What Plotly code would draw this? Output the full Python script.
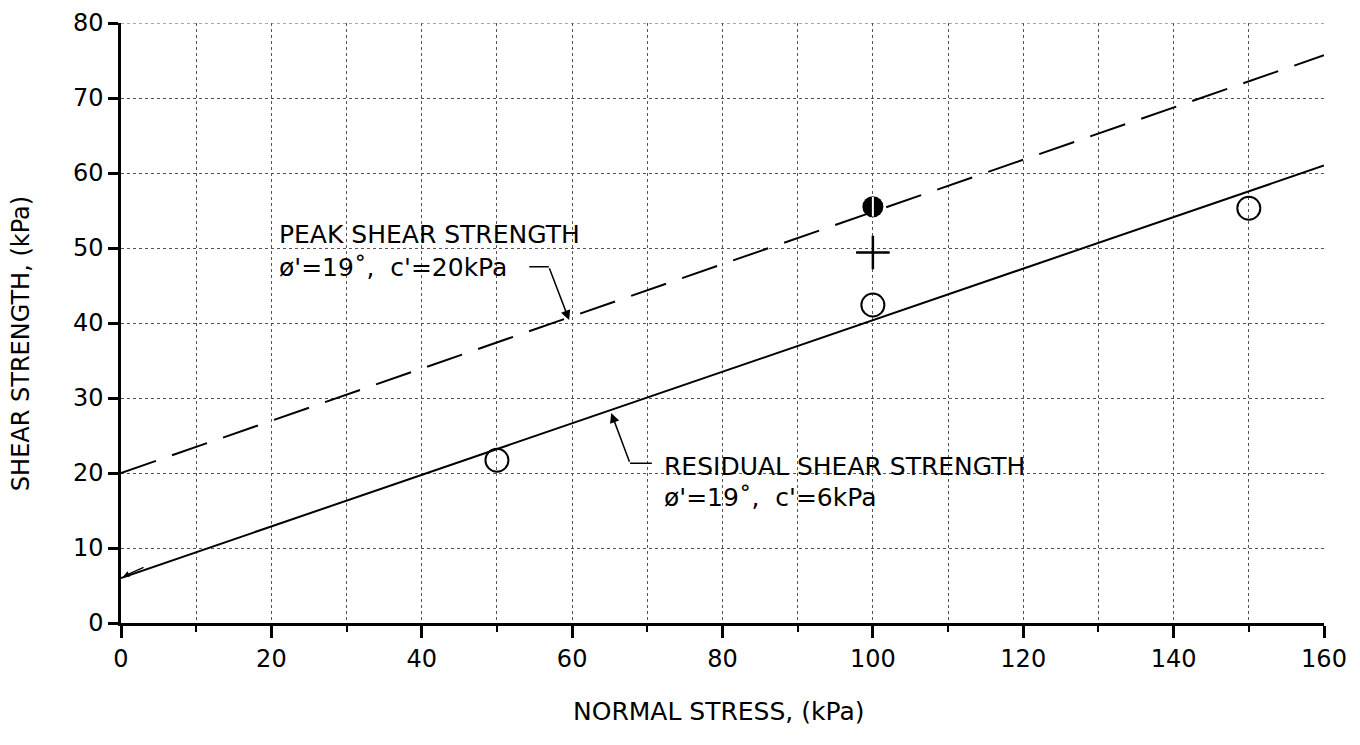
import plotly.graph_objects as go

# Data
line_x = [0, 160]
peak_y = [20, 75.7]
residual_y = [6, 61]

open_x = [50, 100, 150]
open_y = [21.7, 42.4, 55.3]
filled_x = [100]
filled_y = [55.5]
plus_x = [100]
plus_y = [49.4]

x_ticks = [0, 20, 40, 60, 80, 100, 120, 140, 160]
y_ticks = [0, 10, 20, 30, 40, 50, 60, 70, 80]

FONT = "DejaVu Sans"

fig = go.Figure()
fig.add_trace(go.Scatter(x=line_x, y=peak_y, mode="lines",
                         line=dict(color="black", width=2, dash="37px,17px"),
                         showlegend=False, hoverinfo="skip"))
fig.add_trace(go.Scatter(x=line_x, y=residual_y, mode="lines",
                         line=dict(color="black", width=2),
                         showlegend=False, hoverinfo="skip"))
fig.add_trace(go.Scatter(x=open_x, y=open_y, mode="markers",
                         marker=dict(symbol="circle-open", size=23,
                                     line=dict(color="black", width=2), color="black"),
                         showlegend=False))
fig.add_trace(go.Scatter(x=filled_x, y=filled_y, mode="markers",
                         marker=dict(symbol="circle", size=21, color="black"),
                         showlegend=False))
fig.add_trace(go.Scatter(x=filled_x, y=filled_y, mode="markers",
                         marker=dict(symbol="line-ns", size=14,
                                     line=dict(color="white", width=2)),
                         showlegend=False))
fig.add_trace(go.Scatter(x=plus_x, y=plus_y, mode="markers",
                         marker=dict(symbol="cross-thin", size=24,
                                     line=dict(color="black", width=2.5)),
                         showlegend=False))

# Leader lines (elbow parts)
fig.add_trace(go.Scatter(x=[54.3, 56.9], y=[47.5, 47.5], mode="lines",
                         line=dict(color="black", width=1.5),
                         showlegend=False, hoverinfo="skip"))
fig.add_trace(go.Scatter(x=[70.6, 67.7], y=[21.3, 21.3], mode="lines",
                         line=dict(color="black", width=1.5),
                         showlegend=False, hoverinfo="skip"))

# Arrows
fig.add_annotation(x=59.6, y=40.4, ax=56.9, ay=47.5, xref="x", yref="y",
                   axref="x", ayref="y", showarrow=True, arrowhead=2,
                   arrowsize=1.3, arrowwidth=1.5, arrowcolor="black", text="")
fig.add_annotation(x=65.2, y=28.0, ax=67.7, ay=21.3, xref="x", yref="y",
                   axref="x", ayref="y", showarrow=True, arrowhead=2,
                   arrowsize=1.3, arrowwidth=1.5, arrowcolor="black", text="")
fig.add_annotation(x=0.3, y=6.2, ax=3.2, ay=7.5, xref="x", yref="y",
                   axref="x", ayref="y", showarrow=True, arrowhead=2,
                   arrowsize=1, arrowwidth=1.2, arrowcolor="black", text="")

# Labels
fig.add_annotation(x=20.8, y=51.8, xref="x", yref="y", text="PEAK SHEAR STRENGTH",
                   showarrow=False, xanchor="left", yanchor="middle",
                   font=dict(family=FONT, size=25, color="black"))
fig.add_annotation(x=20.8, y=47.4, xref="x", yref="y", text="ø'=19˚,  c'=20kPa",
                   showarrow=False, xanchor="left", yanchor="middle",
                   font=dict(family=FONT, size=25, color="black"))
fig.add_annotation(x=72.0, y=20.9, xref="x", yref="y", text="RESIDUAL SHEAR STRENGTH",
                   showarrow=False, xanchor="left", yanchor="middle",
                   font=dict(family=FONT, size=25, color="black"))
fig.add_annotation(x=72.0, y=16.8, xref="x", yref="y", text="ø'=19˚,  c'=6kPa",
                   showarrow=False, xanchor="left", yanchor="middle",
                   font=dict(family=FONT, size=25, color="black"))

# Axis titles
fig.add_annotation(x=0.497, y=-0.148, xref="paper", yref="paper",
                   text="NORMAL STRESS, (kPa)", showarrow=False,
                   xanchor="center", yanchor="middle",
                   font=dict(family=FONT, size=25, color="black"))
fig.add_annotation(x=-0.083, y=0.465, xref="paper", yref="paper",
                   text="SHEAR STRENGTH, (kPa)", showarrow=False, textangle=-90,
                   xanchor="center", yanchor="middle",
                   font=dict(family=FONT, size=24, color="black"))

grid = dict(gridcolor="#555555", gridwidth=1, griddash="dot")

fig.update_xaxes(range=[0, 160], tickvals=x_ticks, ticktext=[str(v) for v in x_ticks],
                 showline=True, linecolor="black", linewidth=2.5, mirror=False,
                 ticks="outside", ticklen=12, tickwidth=2.5, tickcolor="black",
                 tickfont=dict(family=FONT, size=24, color="black"),
                 ticklabeloverflow="allow",
                 showgrid=True, zeroline=False, **grid,
                 minor=dict(dtick=10, tick0=0, ticks="outside", ticklen=6,
                            tickwidth=2, tickcolor="black", showgrid=True, **grid))
fig.update_yaxes(range=[0, 80], tickvals=y_ticks, ticktext=[str(v) for v in y_ticks],
                 showline=True, linecolor="black", linewidth=2.5, mirror=False,
                 ticks="outside", ticklen=10, tickwidth=2.5, tickcolor="black",
                 tickfont=dict(family=FONT, size=24, color="black"),
                 ticklabeloverflow="allow",
                 showgrid=True, zeroline=False, **grid)

# Top border gridline at y=80 (dotted, like the other grid lines)
fig.add_shape(type="line", xref="x", yref="y", x0=0, x1=160, y0=80, y1=80,
              line=dict(color="#555555", width=1, dash="dot"), layer="below")

fig.update_layout(width=1360, height=745, plot_bgcolor="white", paper_bgcolor="white",
                  margin=dict(l=113, r=44, t=15, b=130, autoexpand=False),
                  showlegend=False)

fig.write_html("out.html")
